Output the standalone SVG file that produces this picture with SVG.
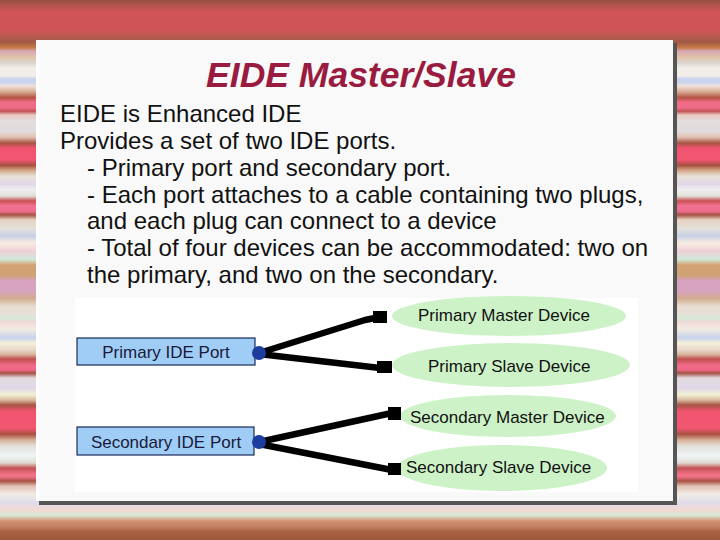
<svg xmlns="http://www.w3.org/2000/svg" width="720" height="540" viewBox="0 0 720 540">
<defs>
<linearGradient id="stripes" x1="0" y1="0" x2="0" y2="540" gradientUnits="userSpaceOnUse">
<stop offset="0" stop-color="#94503f"/>
<stop offset="0.011" stop-color="#b85450"/>
<stop offset="0.022" stop-color="#d05457"/>
<stop offset="0.056" stop-color="#d05558"/>
<stop offset="0.067" stop-color="#b85a4e"/>
<stop offset="0.078" stop-color="#a05a45"/>
<stop offset="0.089" stop-color="#cc7e48"/>
<stop offset="0.094" stop-color="#d6a4b4"/>
<stop offset="0.106" stop-color="#e2c4a8"/>
<stop offset="0.117" stop-color="#d9d7d0"/>
<stop offset="0.126" stop-color="#f2eee8"/>
<stop offset="0.141" stop-color="#f0ece8"/>
<stop offset="0.146" stop-color="#c9d2ef"/>
<stop offset="0.154" stop-color="#cdd4ec"/>
<stop offset="0.159" stop-color="#f2e2da"/>
<stop offset="0.170" stop-color="#d6aa92"/>
<stop offset="0.181" stop-color="#b45244"/>
<stop offset="0.189" stop-color="#f06c88"/>
<stop offset="0.200" stop-color="#ee6c86"/>
<stop offset="0.206" stop-color="#c25254"/>
<stop offset="0.213" stop-color="#e9c9c0"/>
<stop offset="0.224" stop-color="#e2dedd"/>
<stop offset="0.244" stop-color="#e0dadc"/>
<stop offset="0.254" stop-color="#e2c2b2"/>
<stop offset="0.265" stop-color="#a65444"/>
<stop offset="0.274" stop-color="#f0546e"/>
<stop offset="0.296" stop-color="#f25672"/>
<stop offset="0.306" stop-color="#a65040"/>
<stop offset="0.315" stop-color="#d2a282"/>
<stop offset="0.326" stop-color="#e8e2da"/>
<stop offset="0.341" stop-color="#e2d8e8"/>
<stop offset="0.352" stop-color="#f0f0f0"/>
<stop offset="0.363" stop-color="#e0e0d8"/>
<stop offset="0.372" stop-color="#c85252"/>
<stop offset="0.381" stop-color="#f07090"/>
<stop offset="0.391" stop-color="#f07090"/>
<stop offset="0.398" stop-color="#a45242"/>
<stop offset="0.407" stop-color="#e8d2c2"/>
<stop offset="0.424" stop-color="#e2e0da"/>
<stop offset="0.437" stop-color="#c8d0e8"/>
<stop offset="0.450" stop-color="#f8ece0"/>
<stop offset="0.465" stop-color="#f0d0d8"/>
<stop offset="0.480" stop-color="#d0e8d8"/>
<stop offset="0.491" stop-color="#d2a272"/>
<stop offset="0.509" stop-color="#d0a272"/>
<stop offset="0.520" stop-color="#d8a2c0"/>
<stop offset="0.539" stop-color="#d6a4c0"/>
<stop offset="0.552" stop-color="#d2aa90"/>
<stop offset="0.567" stop-color="#e8dcd0"/>
<stop offset="0.580" stop-color="#e8e0d8"/>
<stop offset="0.589" stop-color="#d4ead8"/>
<stop offset="0.596" stop-color="#f0d8d8"/>
<stop offset="0.609" stop-color="#f2ebe2"/>
<stop offset="0.626" stop-color="#c8d2ec"/>
<stop offset="0.635" stop-color="#f4f0d8"/>
<stop offset="0.648" stop-color="#e8d8c8"/>
<stop offset="0.656" stop-color="#d8b8a0"/>
<stop offset="0.665" stop-color="#c05050"/>
<stop offset="0.676" stop-color="#f06a88"/>
<stop offset="0.685" stop-color="#f06a88"/>
<stop offset="0.691" stop-color="#a45242"/>
<stop offset="0.700" stop-color="#e2dae0"/>
<stop offset="0.719" stop-color="#e0d8e8"/>
<stop offset="0.731" stop-color="#f2f0d2"/>
<stop offset="0.741" stop-color="#d8b8a0"/>
<stop offset="0.750" stop-color="#a65444"/>
<stop offset="0.761" stop-color="#f05570"/>
<stop offset="0.793" stop-color="#f25670"/>
<stop offset="0.804" stop-color="#a85040"/>
<stop offset="0.815" stop-color="#d8b098"/>
<stop offset="0.826" stop-color="#e2e0dc"/>
<stop offset="0.844" stop-color="#f0f4f6"/>
<stop offset="0.857" stop-color="#e0dcd4"/>
<stop offset="0.867" stop-color="#c25252"/>
<stop offset="0.878" stop-color="#f07088"/>
<stop offset="0.883" stop-color="#f07088"/>
<stop offset="0.891" stop-color="#a85242"/>
<stop offset="0.900" stop-color="#e0c0b4"/>
<stop offset="0.915" stop-color="#f2ece6"/>
<stop offset="0.931" stop-color="#e0dcea"/>
<stop offset="0.944" stop-color="#f2d8d0"/>
<stop offset="0.954" stop-color="#d8ead8"/>
<stop offset="0.965" stop-color="#d29272"/>
<stop offset="0.976" stop-color="#c08060"/>
<stop offset="0.985" stop-color="#a86040"/>
<stop offset="1" stop-color="#9c5838"/>
</linearGradient>
<style>
.body{font-family:"Liberation Sans",Arial,sans-serif;font-size:24px;fill:#111}
.title{font-family:"Liberation Sans",Arial,sans-serif;font-size:35.5px;font-weight:bold;font-style:italic;fill:#9a1b40}
.port rect{fill:#9fcdf5;stroke:#1a2a5a;stroke-width:1.2}
.port text{font-family:"Liberation Sans",Arial,sans-serif;font-size:17px;fill:#1a1a3a;text-anchor:middle}
.dev ellipse{fill:#cdf2c7}
.dev text{font-family:"Liberation Sans",Arial,sans-serif;font-size:17px;fill:#111}
.cable{fill:none;stroke:#000;stroke-width:6.5;stroke-linejoin:round}
.plug{fill:#000}
.dot{fill:#1c3d9e}
</style>
</defs>
<rect x="0" y="0" width="720" height="540" fill="url(#stripes)"/>
<rect x="39" y="43" width="638" height="462" fill="#555"/>
<rect x="36" y="40" width="637" height="461" fill="#fff" fill-opacity="0.97"/>
<text class="title" x="361" y="87" text-anchor="middle">EIDE Master/Slave</text>
<g id="text">
<text class="body" x="60" y="122">EIDE is Enhanced IDE</text>
<text class="body" x="60" y="149">Provides a set of two IDE ports.</text>
<text class="body" x="87" y="176">- Primary port and secondary port.</text>
<text class="body" x="87" y="203">- Each port attaches to a cable containing two plugs,</text>
<text class="body" x="87" y="229">and each plug can connect to a device</text>
<text class="body" x="87" y="256">- Total of four devices can be accommodated: two on</text>
<text class="body" x="87" y="283">the primary, and two on the secondary.</text>
</g>
<rect x="75" y="298" width="563" height="194" fill="#fff"/>
<g id="primary-master" class="dev"><ellipse cx="509" cy="316" rx="117" ry="20"/><text x="418" y="321">Primary Master Device</text></g>
<g id="primary-slave" class="dev"><ellipse cx="511" cy="365" rx="119" ry="22"/><text x="428" y="372">Primary Slave Device</text></g>
<g id="secondary-master" class="dev"><ellipse cx="508" cy="416" rx="108" ry="21"/><text x="410" y="423">Secondary Master Device</text></g>
<g id="secondary-slave" class="dev"><ellipse cx="502" cy="468" rx="105" ry="23"/><text x="406" y="473">Secondary Slave Device</text></g>
<g id="connectors">
<polyline class="cable" points="259,353 365,320 380,317"/>
<polyline class="cable" points="259,354 380,368"/>
<polyline class="cable" points="259,442 392,413"/>
<polyline class="cable" points="259,444 392,470"/>
<rect class="plug" x="373" y="311" width="14" height="12"/>
<rect class="plug" x="377" y="361" width="15" height="12"/>
<rect class="plug" x="388" y="407" width="13" height="13"/>
<rect class="plug" x="388" y="463" width="13" height="12"/>
</g>
<g id="primary-port" class="port"><rect x="77" y="338" width="178" height="27"/><text x="166" y="358">Primary IDE Port</text></g>
<g id="secondary-port" class="port"><rect x="77" y="427" width="177" height="28"/><text x="166" y="448">Secondary IDE Port</text></g>
<circle class="dot" cx="259" cy="353" r="7"/>
<circle class="dot" cx="259" cy="442" r="7"/>
</svg>
